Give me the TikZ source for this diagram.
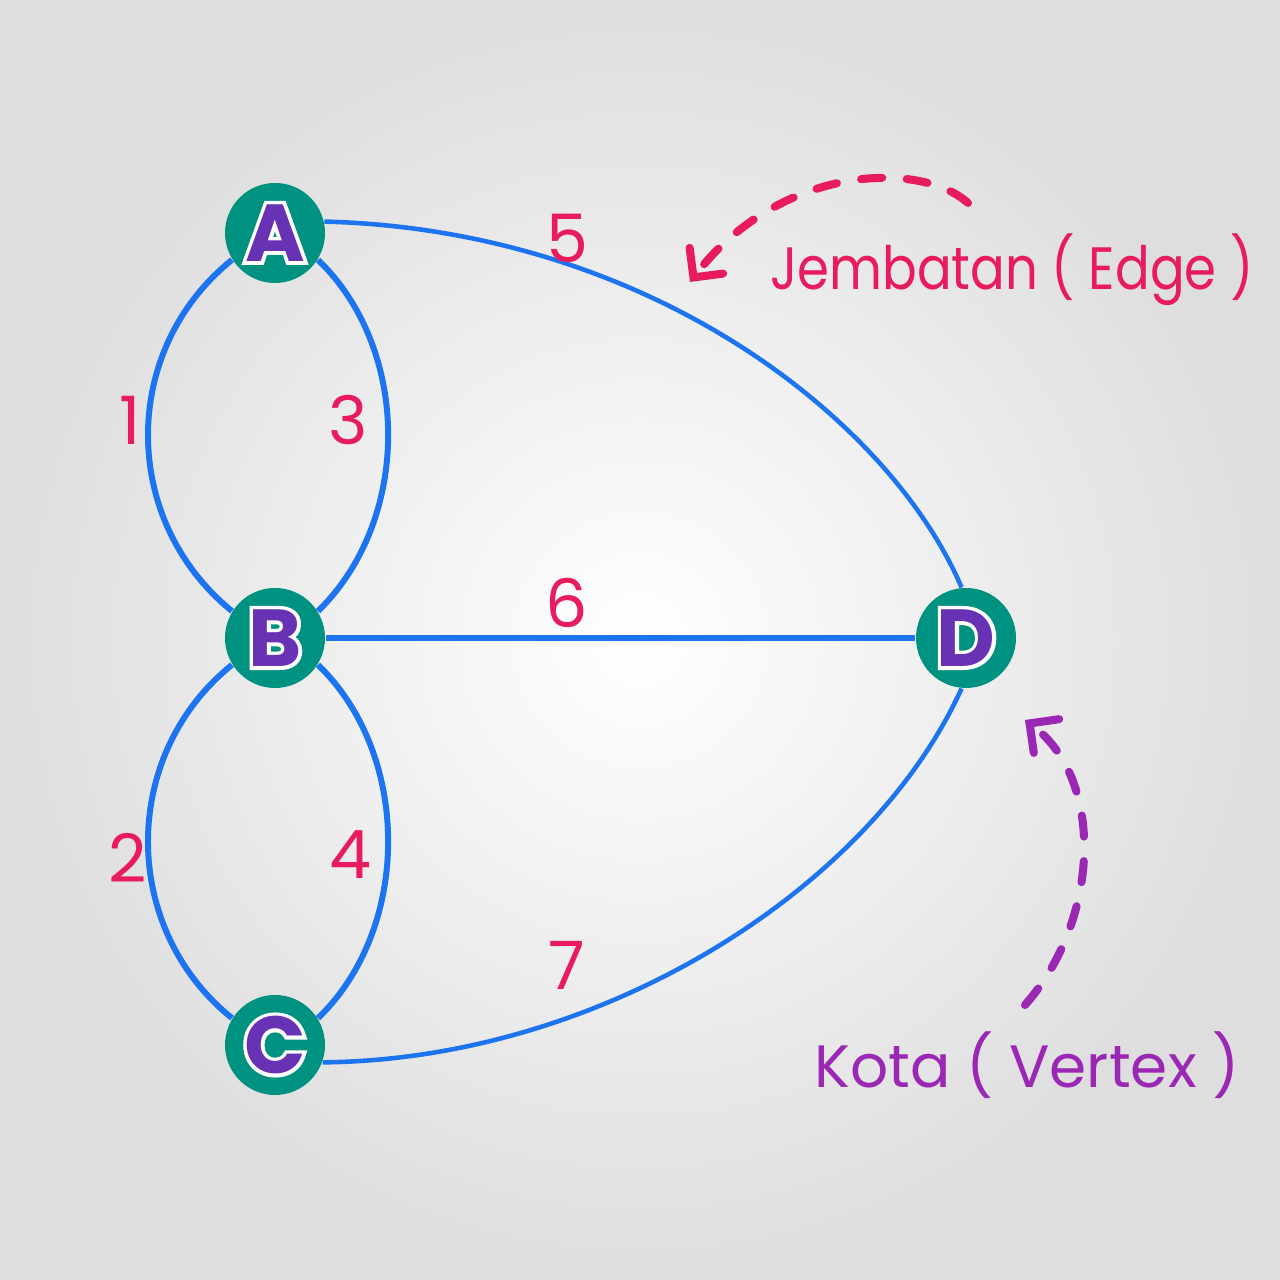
\documentclass[tikz,border=0pt]{standalone}
\usepackage{fontspec}
\setmainfont{Poppins}
\newfontfamily\whiteout{Poppins}[BoldFeatures={FakeBold=9}]
\usetikzlibrary{arrows.meta}
\definecolor{edgeblue}{RGB}{28,116,240}
\definecolor{vteal}{RGB}{0,146,128}
\definecolor{vpurple}{RGB}{104,50,180}
\definecolor{lblred}{RGB}{232,28,92}
\definecolor{annpurple}{RGB}{155,40,180}
\newcommand{\vlabel}[1]{\makebox[0pt]{\whiteout\bfseries\color{white}#1}\makebox[0pt]{#1}}
\tikzset{
  vertex/.style={circle, fill=vteal, minimum size=1.0cm, inner sep=0pt,
    font=\fontsize{23}{23}\selectfont\bfseries, text=vpurple},
  edgeline/.style={draw=edgeblue, line width=1.7pt},
  thinedge/.style={draw=edgeblue, line width=1.3pt},
  num/.style={text=lblred, font=\fontsize{19}{19}\selectfont},
  annred/.style={text=lblred, font=\fontsize{17}{17}\selectfont},
  annpur/.style={text=annpurple, font=\fontsize{17}{17}\selectfont},
  dasharrow/.style={line width=2.3pt, line cap=round, dash pattern=on 6pt off 7pt,
    -{Straight Barb[length=6pt, width=12pt, line cap=round]}},
}
\begin{document}
\begin{tikzpicture}
\shade[inner color=white, outer color=black!13] (0,0) rectangle (12.8,12.8);
\useasboundingbox (0,0) rectangle (12.8,12.8);
% vertices
\node[vertex] (A) at (2.75,10.47) {\vlabel{A}};
\node[vertex] (B) at (2.75,6.42) {\vlabel{B}};
\node[vertex] (C) at (2.75,2.35) {\vlabel{C}};
\node[vertex] (D) at (9.66,6.42) {\vlabel{D}};
% edges
\draw[edgeline] (A.212) .. controls (1.2,9.3) and (1.2,7.6) .. (B.148);
\draw[edgeline] (A.328) .. controls (4.115,9.3) and (4.115,7.6) .. (B.32);
\draw[edgeline] (B.212) .. controls (1.2,5.25) and (1.2,3.52) .. (C.148);
\draw[edgeline] (B.328) .. controls (4.115,5.25) and (4.115,3.52) .. (C.32);
\draw[thinedge] (A.13) .. controls (6.5,10.5) and (8.9,8.6) .. (D.95);
\draw[edgeline] (B) -- (D);
\draw[thinedge] (C.340) .. controls (6.0,2.2) and (8.7,3.9) .. (D.265);
% edge labels
\node[num] (l1) at (1.30,8.6) {1};
\node[num] (l3) at (3.48,8.6) {3};
\node[num] (l2) at (1.28,4.22) {2};
\node[num] (l4) at (3.50,4.25) {4};
\node[num] (l5) at (5.67,10.42) {5};
\node[num] (l6) at (5.67,6.77) {6};
\node[num] (l7) at (5.67,3.15) {7};
% annotations
\node[annred] (jem) at (10.12,10.1) {\scalebox{0.86}[1]{Jembatan ( Edge )}};
\node[annpur] (kota) at (10.27,2.15) {Kota ( Vertex )};
\coordinate (r1) at (9.68,10.77);
\coordinate (r2) at (6.9,9.98);
\draw[dasharrow, lblred] (r1) .. controls (9.2,11.2) and (7.8,11.15) .. (r2);
\coordinate (p1) at (10.25,2.75);
\coordinate (p2) at (10.25,5.6);
\draw[dasharrow, annpurple] (p1) .. controls (11.0,3.6) and (11.05,5.0) .. (p2);
\end{tikzpicture}
\end{document}
